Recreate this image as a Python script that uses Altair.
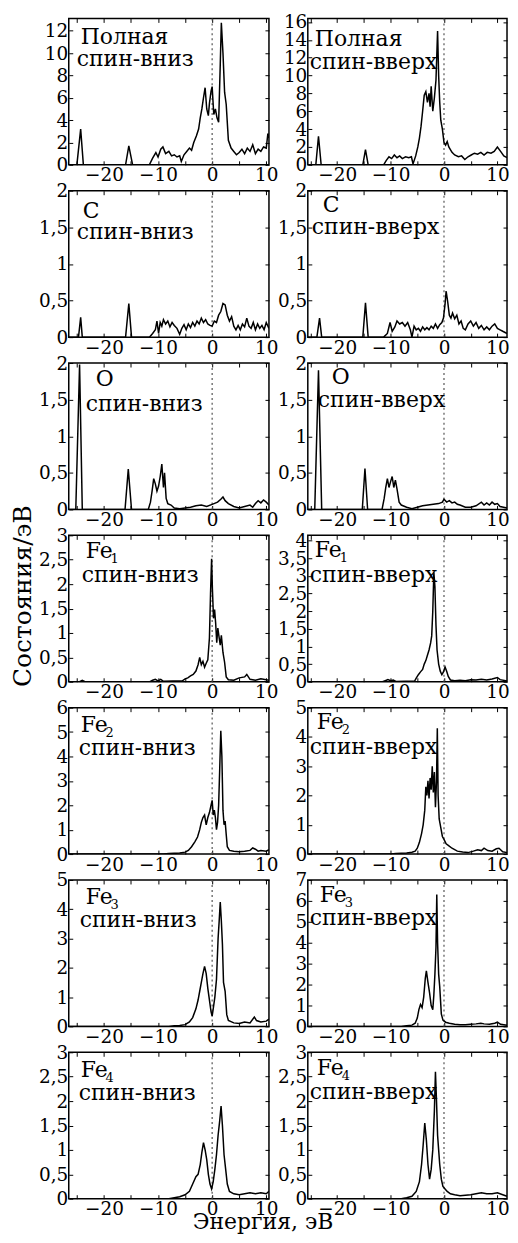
import altair as alt
import pandas as pd

FONT = "DejaVu Serif"

# ---------------- data (energy, eV ; DOS, states/eV) ----------------
TOT_DN_E = [-26.5, -25.0, -24.3, -23.8, -16.0, -15.4, -14.7, -11.6, -11.0, -10.4, -10.0, -9.5, -9.1, -8.6, -8.0, -7.5,
            -7.0, -6.5, -6.0, -5.7, -5.2, -4.7, -4.2, -3.8, -3.4, -2.9, -2.5, -2.2, -1.9, -1.6, -1.3, -1.0, -0.7,
            -0.5, -0.2, 0.0, 0.3, 0.6, 0.9, 1.2, 1.5, 1.7, 2.0, 2.3, 2.6, 3.0, 3.5, 4.0, 4.5, 5.0, 5.5, 6.0, 6.5,
            7.0, 7.5, 8.0, 8.5, 9.0, 9.5, 10.0, 10.3, 10.5]
TOT_DN_V = [0, 0, 3.2, 0, 0, 1.7, 0, 0, 0.6, 1.1, 0.7, 1.4, 1.6, 1.0, 1.2, 0.8,
            0.9, 0.7, 0.8, 0.3, 0.9, 1.2, 1.5, 1.3, 2.0, 2.6, 3.2, 4.2, 5.0, 6.0, 6.9, 5.0, 4.4,
            5.5, 6.6, 7.0, 4.5, 5.0, 4.2, 3.8, 9.0, 12.7, 10.0, 6.5, 5.4, 2.2, 1.5, 1.2, 0.9, 1.1, 1.4, 1.0, 1.5,
            1.2, 1.8, 1.0, 1.4, 1.2, 1.6, 1.5, 2.8, 2.4]

TOT_UP_E = [-25.5, -24.0, -23.5, -23.0, -15.2, -14.7, -14.2, -11.3, -10.8, -10.3, -9.8, -9.3, -8.8, -8.3, -7.8, -7.2,
            -6.6, -6.1, -5.8, -5.3, -4.9, -4.6, -4.3, -4.0, -3.7, -3.4, -3.1, -2.8, -2.6, -2.4, -2.1, -1.8, -1.5,
            -1.2, -1.0, -0.8, -0.6, -0.3, 0.0, 0.3, 0.6, 0.9, 1.5, 2.0, 2.7, 3.3, 3.9, 4.5, 5.1, 5.7, 6.3, 6.9,
            7.5, 8.1, 8.8, 9.4, 10.0, 10.6, 11.2, 11.8]
TOT_UP_V = [0, 0, 3.2, 0, 0, 1.7, 0, 0, 0.5, 0.9, 0.7, 1.1, 0.8, 1.0, 0.7, 0.9,
            0.8, 0.9, 0.1, 1.0, 2.0, 3.0, 4.3, 6.0, 7.8, 8.2, 7.0, 8.0, 6.5, 8.8, 6.0, 7.5, 9.5,
            15.0, 10.0, 7.0, 5.0, 4.0, 2.5, 2.2, 2.6, 2.0, 1.4, 1.1, 0.9, 1.0, 0.6, 0.9, 1.1, 1.3, 1.2, 1.4,
            1.1, 1.4, 1.3, 1.5, 2.0, 1.5, 1.0, 0.8]

C_DN_E = [-26.5, -24.7, -24.3, -24.0, -16.0, -15.4, -14.9, -11.6, -11.0, -10.5, -10.2, -9.9, -9.6, -9.3, -9.0, -8.6,
          -8.2, -7.8, -7.4, -7.0, -6.5, -6.0, -5.6, -5.2, -4.8, -4.4, -4.0, -3.6, -3.2, -2.8, -2.4, -2.0, -1.6,
          -1.2, -0.8, -0.4, 0.0, 0.4, 0.8, 1.2, 1.6, 2.0, 2.4, 2.8, 3.2, 3.6, 4.0, 4.4, 4.8, 5.2, 5.6, 6.0, 6.4,
          6.8, 7.2, 7.6, 8.0, 8.4, 8.8, 9.2, 9.6, 10.0, 10.5]
C_DN_V = [0, 0, 0.27, 0, 0, 0.46, 0, 0, 0.05, 0.1, 0.22, 0.05, 0.2, 0.15, 0.24, 0.18,
          0.22, 0.14, 0.2, 0.16, 0.12, 0.04, 0.12, 0.17, 0.1, 0.18, 0.13, 0.2, 0.15, 0.22, 0.18, 0.26, 0.2,
          0.24, 0.18, 0.16, 0.15, 0.22, 0.2, 0.3, 0.35, 0.46, 0.44, 0.3, 0.22, 0.28, 0.15, 0.1, 0.16, 0.1, 0.18,
          0.14, 0.26, 0.15, 0.12, 0.2, 0.1, 0.18, 0.12, 0.16, 0.1, 0.2, 0.12]

C_UP_E = [-25.5, -23.8, -23.3, -22.9, -15.2, -14.7, -14.2, -11.3, -10.6, -10.1, -9.7, -9.2, -8.8, -8.3, -7.8, -7.3,
          -6.8, -6.3, -6.0, -5.6, -5.2, -4.8, -4.4, -4.0, -3.6, -3.2, -2.8, -2.4, -2.0, -1.6, -1.2, -0.8, -0.4,
          -0.1, 0.2, 0.4, 0.7, 1.0, 1.3, 1.6, 2.0, 2.4, 2.8, 3.2, 3.6, 4.0, 4.5, 5.0, 5.5, 6.0, 6.5, 7.0, 7.5,
          8.0, 8.5, 9.0, 9.5, 10.0, 10.5, 11.0, 11.8]
C_UP_V = [0, 0, 0.26, 0, 0, 0.47, 0, 0, 0.05, 0.2, 0.08, 0.14, 0.22, 0.18, 0.2, 0.15,
          0.2, 0.1, 0.0, 0.15, 0.1, 0.12, 0.08, 0.14, 0.1, 0.13, 0.1, 0.15, 0.12, 0.18, 0.12, 0.17, 0.2,
          0.26, 0.45, 0.63, 0.48, 0.3, 0.26, 0.33, 0.25, 0.3, 0.18, 0.22, 0.12, 0.1, 0.18, 0.22, 0.15, 0.2, 0.12,
          0.16, 0.1, 0.14, 0.1, 0.15, 0.18, 0.12, 0.1, 0.08, 0.05]

O_DN_E = [-26.5, -25.2, -24.5, -24.0, -16.1, -15.5, -14.9, -11.8, -11.4, -11.1, -10.8, -10.5, -10.2, -9.9, -9.6, -9.3,
          -9.0, -8.8, -8.5, -8.2, -7.6, -7.0, -6.0, -5.0, -4.0, -3.0, -2.0, -1.0, 0.0, 1.0, 1.6, 2.0, 2.4, 3.0,
          4.0, 5.0, 6.0, 7.0, 7.5, 8.0, 8.5, 9.0, 9.5, 10.0, 10.5]
O_DN_V = [0, 0, 1.98, 0, 0, 0.55, 0, 0, 0.1, 0.25, 0.42, 0.35, 0.25, 0.32, 0.45, 0.62,
          0.3, 0.5, 0.15, 0.08, 0.06, 0.02, 0.01, 0.02, 0.03, 0.05, 0.06, 0.04, 0.07, 0.1, 0.14, 0.17, 0.12, 0.08,
          0.04, 0.02, 0.04, 0.06, 0.03, 0.08, 0.12, 0.09, 0.13, 0.1, 0.06]

O_UP_E = [-25.5, -24.2, -23.5, -22.9, -15.3, -14.8, -14.3, -11.6, -11.2, -10.9, -10.6, -10.3, -10.0, -9.7, -9.4, -9.1,
          -8.8, -8.4, -8.0, -7.0, -6.0, -5.0, -4.0, -3.0, -2.0, -1.0, -0.3, 0.0, 0.5, 1.0, 1.5, 2.0, 2.5, 3.0,
          4.0, 5.0, 6.0, 7.0, 7.5, 8.0, 8.5, 9.0, 9.5, 10.0, 10.5, 11.8]
O_UP_V = [0, 0, 1.9, 0, 0, 0.56, 0, 0, 0.15, 0.3, 0.42, 0.3, 0.38, 0.45, 0.3, 0.4,
          0.28, 0.1, 0.06, 0.03, 0.01, 0.03, 0.05, 0.06, 0.07, 0.08, 0.1, 0.14, 0.1, 0.12, 0.09, 0.1, 0.07, 0.06,
          0.03, 0.03, 0.05, 0.1, 0.06, 0.09, 0.06, 0.1, 0.07, 0.08, 0.04, 0.02]

FE1_DN_E = [-26.5, -24.5, -24.0, -23.5, -11.5, -11.0, -10.5, -10.0, -9.5, -9.0, -5.5, -5.0, -4.5, -4.0, -3.5, -3.0,
            -2.6, -2.3, -2.0, -1.7, -1.4, -1.1, -0.8, -0.5, -0.3, -0.1, 0.05, 0.25, 0.45, 0.65, 0.85, 1.05, 1.3,
            1.5, 1.7, 2.0, 2.3, 2.6, 3.0, 4.0, 5.0, 6.0, 6.4, 7.0, 8.0, 9.0, 10.5]
FE1_DN_V = [0, 0, 0.03, 0, 0, 0.03, 0.05, 0.02, 0.05, 0.01, 0.02, 0.06, 0.08, 0.12, 0.15, 0.22,
            0.35, 0.5, 0.35, 0.42, 0.3, 0.38, 0.45, 0.9, 1.8, 2.52, 1.9, 1.3, 1.48, 1.2, 0.8, 1.1, 0.9,
            0.75, 0.95, 0.6, 0.4, 0.1, 0.04, 0.03, 0.08, 0.1, 0.15, 0.05, 0.03, 0.06, 0.03]

FE1_UP_E = [-25.5, -11.5, -11.0, -10.5, -10.0, -9.5, -9.0, -5.5, -5.2, -4.8, -4.4, -4.0, -3.7, -3.4, -3.1, -2.8,
            -2.5, -2.3, -2.1, -1.9, -1.7, -1.5, -1.3, -1.0, -0.7, -0.4, -0.1, 0.2, 0.5, 0.8, 1.2, 2.0, 3.0, 4.0,
            5.0, 6.0, 7.0, 8.0, 9.0, 10.0, 10.5, 11.8]
FE1_UP_V = [0, 0, 0.03, 0.06, 0.03, 0.05, 0.01, 0.02, 0.1, 0.2, 0.28, 0.35, 0.5, 0.6, 0.75, 0.9,
            1.1, 1.3, 2.0, 3.1, 2.7, 1.6, 0.9, 0.5, 0.3, 0.2, 0.28, 0.42, 0.3, 0.15, 0.05, 0.03, 0.04, 0.03,
            0.06, 0.05, 0.07, 0.05, 0.08, 0.12, 0.06, 0.02]

FE2_DN_E = [-26.5, -9.0, -8.0, -7.0, -6.0, -5.0, -4.4, -3.8, -3.2, -2.7, -2.3, -2.0, -1.7, -1.4, -1.1, -0.8,
            -0.5, -0.2, 0.0, 0.2, 0.4, 0.6, 0.8, 1.0, 1.2, 1.4, 1.6, 1.8, 2.0, 2.2, 2.4, 2.6, 2.8, 3.2, 4.0,
            5.0, 6.0, 7.0, 7.5, 8.0, 8.5, 9.0, 10.0, 10.5]
FE2_DN_V = [0, 0, 0.02, 0.03, 0.04, 0.08, 0.15, 0.3, 0.5, 0.7, 1.0, 1.3, 1.5, 1.6, 1.2, 1.5,
            1.7, 2.0, 2.2, 1.6, 1.8, 1.5, 1.0, 1.3, 2.0, 3.5, 5.05, 4.0, 1.8, 1.2, 1.35, 0.8, 0.3, 0.15, 0.12,
            0.1, 0.12, 0.15, 0.25, 0.2, 0.12, 0.15, 0.12, 0.18]

FE2_UP_E = [-25.5, -10.0, -9.0, -7.0, -6.0, -5.4, -5.0, -4.6, -4.2, -3.9, -3.6, -3.4, -3.2, -3.0, -2.8, -2.6,
            -2.4, -2.2, -2.0, -1.8, -1.6, -1.4, -1.25, -1.1, -0.9, -0.6, -0.3, 0.0, 0.4, 0.8, 1.5, 2.5, 3.5,
            4.5, 5.5, 6.3, 7.0, 7.5, 8.2, 9.0, 9.8, 10.3, 11.0, 11.8]
FE2_UP_V = [0, 0, 0.02, 0.04, 0.06, 0.1, 0.2, 0.4, 0.7, 1.0, 1.5, 2.3, 2.0, 2.5, 1.9, 2.6,
            2.2, 3.0, 2.1, 2.8, 1.6, 2.5, 4.3, 2.0, 1.2, 0.9, 0.6, 0.5, 0.35, 0.3, 0.2, 0.1, 0.07,
            0.05, 0.1, 0.15, 0.12, 0.2, 0.12, 0.1, 0.18, 0.2, 0.08, 0.05]

FE3_DN_E = [-26.5, -8.0, -7.0, -6.0, -5.0, -4.2, -3.6, -3.0, -2.6, -2.3, -2.0, -1.7, -1.4, -1.1, -0.8, -0.5,
            -0.2, 0.0, 0.2, 0.5, 0.8, 1.1, 1.3, 1.5, 1.7, 1.9, 2.1, 2.4, 2.7, 3.0, 4.0, 5.0, 6.0, 7.0, 7.8,
            8.2, 9.0, 10.0, 10.5]
FE3_DN_V = [0, 0, 0.02, 0.03, 0.06, 0.15, 0.3, 0.6, 0.9, 1.2, 1.5, 1.8, 2.05, 1.8, 1.3, 0.9,
            0.5, 0.35, 0.6, 1.0, 1.6, 3.0, 3.6, 4.25, 3.6, 2.8, 1.5, 1.2, 0.4, 0.2, 0.12, 0.1, 0.15, 0.12, 0.32,
            0.2, 0.15, 0.18, 0.25]

FE3_UP_E = [-25.5, -8.0, -7.0, -6.0, -5.4, -5.0, -4.7, -4.4, -4.1, -3.8, -3.5, -3.3, -3.0, -2.7, -2.4, -2.1,
            -1.9, -1.7, -1.5, -1.35, -1.2, -1.0, -0.8, -0.5, -0.2, 0.3, 1.0, 2.0, 3.0, 4.0, 5.0, 6.0, 6.9, 7.5,
            8.5, 9.5, 10.0, 10.6, 11.8]
FE3_UP_V = [0, 0, 0.03, 0.06, 0.15, 0.4, 0.8, 1.05, 0.9, 1.4, 2.3, 2.65, 2.1, 1.6, 1.0, 0.8,
            1.5, 2.5, 3.8, 6.3, 4.0, 2.5, 1.9, 0.6, 0.3, 0.2, 0.15, 0.1, 0.08, 0.08, 0.1, 0.12, 0.15, 0.12,
            0.1, 0.15, 0.2, 0.1, 0.05]

FE4_DN_E = [-26.5, -8.0, -7.0, -6.0, -5.0, -4.2, -3.6, -3.0, -2.6, -2.2, -1.9, -1.6, -1.3, -1.0, -0.7, -0.4,
            -0.1, 0.2, 0.5, 0.8, 1.1, 1.4, 1.65, 1.9, 2.2, 2.5, 2.8, 3.2, 4.0, 5.0, 6.0, 7.0, 8.0, 9.0, 10.0, 10.5]
FE4_DN_V = [0, 0, 0.02, 0.04, 0.08, 0.15, 0.3, 0.45, 0.5, 0.7, 0.95, 1.15, 1.0, 0.8, 0.5, 0.3,
            0.2, 0.35, 0.6, 0.9, 1.3, 1.6, 1.9, 1.5, 0.9, 0.6, 0.3, 0.15, 0.1, 0.08, 0.1, 0.12, 0.1, 0.12, 0.1, 0.15]

FE4_UP_E = [-25.5, -8.0, -7.0, -6.0, -5.2, -4.6, -4.2, -3.9, -3.6, -3.3, -3.0, -2.7, -2.4, -2.1, -1.8, -1.6,
            -1.4, -1.2, -1.0, -0.8, -0.5, -0.2, 0.2, 0.6, 1.2, 2.0, 3.0, 4.0, 5.0, 6.0, 7.0, 8.0, 9.0, 10.0,
            11.0, 11.8]
FE4_UP_V = [0, 0, 0.02, 0.05, 0.15, 0.35, 0.7, 1.1, 1.55, 1.2, 0.7, 0.4, 0.6, 1.0, 1.8, 2.6,
            2.0, 1.3, 1.0, 0.7, 0.4, 0.25, 0.2, 0.15, 0.1, 0.08, 0.06, 0.07, 0.08, 0.1, 0.12, 0.1, 0.1, 0.12,
            0.08, 0.05]

X_TICKS = [-25, -20, -15, -10, -5, 0, 5, 10]
LEFT_DOMAIN = [-26.5, 10.5]
RIGHT_DOMAIN = [-25.5, 11.8]

SPIN_DN = "спин-вниз"
SPIN_UP = "спин-вверх"

LS = 22   # panel label font size
SS = 13   # subscript size

# label specs: (text, x, baseline y, size)
PANELS = [
    [dict(E=TOT_DN_E, V=TOT_DN_V, ydom=[0, 13.1], yv=[0, 2, 4, 6, 8, 10, 12],
          labels=[("Полная", 12, 26, LS), (SPIN_DN, 8, 48, LS)]),
     dict(E=TOT_UP_E, V=TOT_UP_V, ydom=[0, 16.4], yv=[0, 2, 4, 6, 8, 10, 12, 14, 16],
          labels=[("Полная", 7, 28, LS), (SPIN_UP, 2, 51, LS)])],
    [dict(E=C_DN_E, V=C_DN_V, ydom=[0, 2], yv=[0, 0.5, 1, 1.5, 2],
          labels=[("C", 14, 27, LS), (SPIN_DN, 8, 48, LS)]),
     dict(E=C_UP_E, V=C_UP_V, ydom=[0, 2], yv=[0, 0.5, 1, 1.5, 2],
          labels=[("C", 15, 21, LS), (SPIN_UP, 4, 43, LS)])],
    [dict(E=O_DN_E, V=O_DN_V, ydom=[0, 2], yv=[0, 0.5, 1, 1.5, 2],
          labels=[("O", 27, 23, LS), (SPIN_DN, 17, 48, LS)]),
     dict(E=O_UP_E, V=O_UP_V, ydom=[0, 2], yv=[0, 0.5, 1, 1.5, 2],
          labels=[("O", 24, 21, LS), (SPIN_UP, 10, 44, LS)])],
    [dict(E=FE1_DN_E, V=FE1_DN_V, ydom=[0, 3], yv=[0, 0.5, 1, 1.5, 2, 2.5, 3],
          labels=[("Fe", 17, 23, LS), ("1", 42, 28, SS), (SPIN_DN, 13, 47, LS)]),
     dict(E=FE1_UP_E, V=FE1_UP_V, ydom=[0, 4.15], yv=[0, 0.5, 1, 1.5, 2, 2.5, 3, 3.5, 4],
          labels=[("Fe", 7, 22, LS), ("1", 32, 27, SS), (SPIN_UP, 2, 47, LS)])],
    [dict(E=FE2_DN_E, V=FE2_DN_V, ydom=[0, 6], yv=[0, 1, 2, 3, 4, 5, 6],
          labels=[("Fe", 12, 24, LS), ("2", 37, 29, SS), (SPIN_DN, 10, 48, LS)]),
     dict(E=FE2_UP_E, V=FE2_UP_V, ydom=[0, 5], yv=[0, 1, 2, 3, 4, 5],
          labels=[("Fe", 9, 21, LS), ("2", 34, 26, SS), (SPIN_UP, 2, 47, LS)])],
    [dict(E=FE3_DN_E, V=FE3_DN_V, ydom=[0, 5], yv=[0, 1, 2, 3, 4, 5],
          labels=[("Fe", 17, 24, LS), ("3", 42, 29, SS), (SPIN_DN, 11, 47, LS)]),
     dict(E=FE3_UP_E, V=FE3_UP_V, ydom=[0, 7], yv=[0, 1, 2, 3, 4, 5, 6, 7],
          labels=[("Fe", 12, 22, LS), ("3", 37, 27, SS), (SPIN_UP, 2, 45, LS)])],
    [dict(E=FE4_DN_E, V=FE4_DN_V, ydom=[0, 3], yv=[0, 0.5, 1, 1.5, 2, 2.5, 3],
          labels=[("Fe", 12, 25, LS), ("4", 37, 30, SS), (SPIN_DN, 10, 48, LS)]),
     dict(E=FE4_UP_E, V=FE4_UP_V, ydom=[0, 3], yv=[0, 0.5, 1, 1.5, 2, 2.5, 3],
          labels=[("Fe", 9, 23, LS), ("4", 34, 28, SS), (SPIN_UP, 2, 47, LS)])],
]

H = 147
W_LEFT = 201
W_RIGHT = 200


def text_layer(txt, x, y, size, angle=0, align="left", baseline="alphabetic"):
    kw = dict(text=txt, font=FONT, fontSize=size, color="black", align=align, baseline=baseline)
    if angle:
        kw["angle"] = angle
    return alt.Chart(pd.DataFrame({"k": [0]})).mark_text(**kw).encode(x=alt.value(x), y=alt.value(y))


def panel(spec, col, extra=None):
    df = pd.DataFrame({"E": spec["E"], "V": spec["V"]})
    xdom = LEFT_DOMAIN if col == 0 else RIGHT_DOMAIN
    xs = alt.Scale(domain=xdom, nice=False, zero=False)
    ys = alt.Scale(domain=spec["ydom"], nice=False, zero=False)
    common_x = dict(values=X_TICKS, offset=-4, tickSize=4, domain=False, grid=False, title=None)
    common_y = dict(values=spec["yv"], offset=-4, tickSize=4, domain=False, grid=False, title=None)
    ax_b = alt.Axis(orient="bottom", labelExpr="datum.value % 10 === 0 ? datum.label : ''",
                    labelPadding=1, labelFlush=False, labelOverlap=False, **common_x)
    ax_t = alt.Axis(orient="top", labels=False, **common_x)
    ax_l = alt.Axis(orient="left", labelExpr="replace(format(datum.value, '~g'), '.', ',')",
                    labelPadding=1, labelOverlap=False, labelFlush=False, **common_y)
    ax_r = alt.Axis(orient="right", labels=False, **common_y)

    line = alt.Chart(df).mark_line(color="black", strokeWidth=1.5, clip=True).encode(
        x=alt.X("E:Q", scale=xs, axis=ax_b), y=alt.Y("V:Q", scale=ys, axis=ax_l))
    mirror = alt.Chart(df).mark_line(opacity=0).encode(
        x=alt.X("E:Q", scale=xs, axis=ax_t), y=alt.Y("V:Q", scale=ys, axis=ax_r))
    zero = alt.Chart(pd.DataFrame({"E": [0]})).mark_rule(
        strokeDash=[2, 3], color="#555555", strokeWidth=1.2).encode(x=alt.X("E:Q", scale=xs, axis=None))
    layers = [zero, line, mirror]
    for (t, x, y, s) in spec["labels"]:
        layers.append(text_layer(t, x, y, s))
    if extra:
        layers.extend(extra)
    w = W_LEFT if col == 0 else W_RIGHT
    return alt.layer(*layers).resolve_axis(x="independent", y="independent").properties(width=w, height=H)


cells = []
for r, (ls, rs) in enumerate(PANELS):
    extra_l = []
    if r == 3:
        extra_l.append(text_layer("Состояния/эВ", -46, 61, 25, angle=270, align="center", baseline="middle"))
    if r == 6:
        extra_l.append(text_layer("Энергия, эВ", 195, 170, 22, align="center", baseline="middle"))
    cells.append(panel(ls, 0, extra_l))
    cells.append(panel(rs, 1))

chart = alt.concat(*cells, columns=2, spacing={"row": 26, "column": 39}, bounds="flush").properties(
    padding={"left": 2, "top": 1, "right": 0, "bottom": 0}
).configure_view(stroke="black", strokeWidth=1.5).configure_axis(
    labelFont=FONT, labelFontSize=18.5, labelColor="black", tickColor="black", tickWidth=1
)

chart.save("out.html", embed_options={"renderer": "svg", "actions": False})
